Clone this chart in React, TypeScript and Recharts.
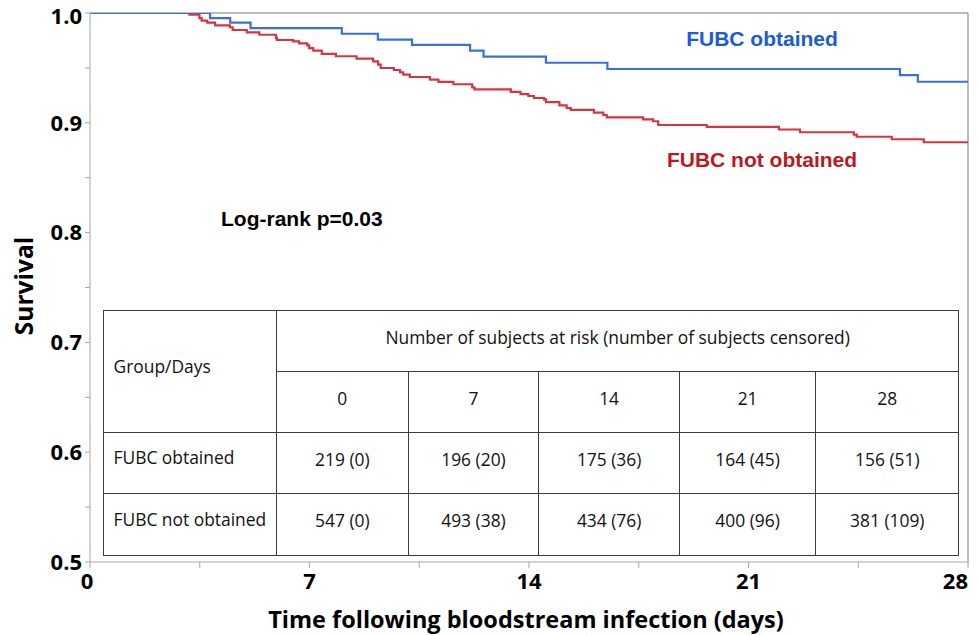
import React from 'react';
import { LineChart, Line, XAxis, YAxis, ReferenceLine } from 'recharts';

// Kaplan-Meier step points (days, survival)
const obtainedTimes = [0, 3.83, 4.47, 5.12, 8.03, 9.18, 10.27, 12.12, 12.55, 14.54, 16.5, 25.83, 26.4, 28];
const obtainedSurvival = [1, 0.9954, 0.9912, 0.9863, 0.9811, 0.9757, 0.9709, 0.9657, 0.9602, 0.9547, 0.949, 0.9435, 0.9374, 0.9374];

const notObtainedTimes = [
  0, 3.17, 3.49, 3.56, 3.74, 3.99, 4.46, 4.55, 5.0, 5.4, 5.93, 5.96, 6.48, 6.67, 6.93, 6.99, 7.12, 7.39, 7.84, 8.5,
  9.03, 9.19, 9.27, 9.69, 9.89, 9.99, 10.2, 10.84, 11.11, 11.59, 12.19, 12.26, 13.42, 13.73, 13.98, 14.16, 14.48,
  14.54, 14.97, 15.2, 15.33, 16.07, 16.37, 16.48, 17.64, 17.96, 18.12, 19.67, 21.97, 22.64, 24.36, 24.45, 25.57,
  26.59, 28,
];
const notObtainedSurvival = [
  1, 0.9985, 0.9954, 0.993, 0.9912, 0.9888, 0.987, 0.9845, 0.9824, 0.9802, 0.9772, 0.9754, 0.9742, 0.9724, 0.9706,
  0.9681, 0.9657, 0.9627, 0.9606, 0.9584, 0.956, 0.9529, 0.9499, 0.9481, 0.946, 0.9438, 0.9417, 0.9393, 0.9372,
  0.9351, 0.9323, 0.9305, 0.9281, 0.9262, 0.9244, 0.9226, 0.9214, 0.9189, 0.9159, 0.9135, 0.9117, 0.9092, 0.9071,
  0.905, 0.9032, 0.9014, 0.898, 0.8962, 0.8939, 0.8914, 0.8893, 0.8873, 0.885, 0.8823, 0.8823,
];

const xTicks = [0, 3.5, 7, 10.5, 14, 17.5, 21, 24.5, 28];
const xLabelTicks = [0, 7, 14, 21, 28];
const yTicks = [0.5, 0.55, 0.6, 0.65, 0.7, 0.75, 0.8, 0.85, 0.9, 0.95, 1.0];
const yLabelTicks = [0.5, 0.6, 0.7, 0.8, 0.9, 1.0];

const tableDays = ['0', '7', '14', '21', '28'];
const groupNames = ['FUBC obtained', 'FUBC not obtained'];
const obtainedAtRisk = ['219 (0)', '196 (20)', '175 (36)', '164 (45)', '156 (51)'];
const notObtainedAtRisk = ['547 (0)', '493 (38)', '434 (76)', '400 (96)', '381 (109)'];

const obtainedData = obtainedTimes.map((t, i) => ({ t, s: obtainedSurvival[i] }));
const notObtainedData = notObtainedTimes.map((t, i) => ({ t, s: notObtainedSurvival[i] }));

const AXIS = '#a6a6a6';
const BLUE_LINE = '#3a6fe4';
const RED_LINE = '#d8343f';
const TICK_FONT = '"Open Sans", sans-serif';
const tableFont = '"Open Sans", "Noto Sans", sans-serif';

const colWidths = [173.5, 131.7, 130.6, 140.7, 136.3, 143];
const rowHeights = [61, 61, 61, 62];

const border = '1.5px solid #3c3c3c';

const XTick = (props: any) => {
  const { x, y, payload } = props;
  const v = payload.value as number;
  if (!xLabelTicks.includes(v)) return null;
  const anchor = v === 28 ? 'end' : 'middle';
  const tx = v === 28 ? x : v === 0 ? x - 3 : x;
  return (
    <text x={tx} y={y} dy="0.71em" textAnchor={anchor} fontFamily={TICK_FONT} fontWeight={700} fontSize={22} fill="#000">
      {String(v)}
    </text>
  );
};

const YTick = (props: any) => {
  const { x, y, payload } = props;
  const v = payload.value as number;
  if (!yLabelTicks.some((m) => Math.abs(m - v) < 1e-6)) return null;
  const ty = Math.abs(v - 1) < 1e-6 ? y + 3 : y;
  return (
    <text x={x} y={ty} dy="0.355em" textAnchor="end" fontFamily={TICK_FONT} fontWeight={700} fontSize={22} fill="#000">
      {v.toFixed(1)}
    </text>
  );
};

export default function App() {
  const cell: React.CSSProperties = {
    border,
    textAlign: 'center',
    verticalAlign: 'middle',
    padding: '0 0 9px 0',
    fontFamily: tableFont,
    fontSize: 17.4,
    color: '#111',
    lineHeight: '20px',
  };
  const leftCell: React.CSSProperties = { ...cell, textAlign: 'left', paddingLeft: 10, paddingBottom: 12 };
  const rows = [obtainedAtRisk, notObtainedAtRisk];
  return (
    <div style={{ position: 'absolute', left: 0, top: 0, width: 978, height: 635, background: '#fff' }}>
      <LineChart width={978} height={635} margin={{ top: 13, right: 10, bottom: 0, left: 0 }}>
        <XAxis
          dataKey="t"
          type="number"
          domain={[0, 28]}
          ticks={xTicks}
          stroke={AXIS}
          tick={<XTick />}
          tickSize={6}
          tickMargin={5}
          height={73}
          allowDataOverflow
        />
        <YAxis
          dataKey="s"
          type="number"
          domain={[0.5, 1]}
          ticks={yTicks}
          stroke={AXIS}
          tick={<YTick />}
          tickSize={5}
          tickMargin={3}
          width={90}
          allowDataOverflow
        />
        <ReferenceLine y={1} stroke={AXIS} strokeWidth={1.5} />
        <ReferenceLine x={28} stroke={AXIS} strokeWidth={1.5} />
        <Line
          data={notObtainedData}
          dataKey="s"
          type="stepAfter"
          stroke={RED_LINE}
          strokeWidth={2.2}
          dot={false}
          activeDot={false}
          isAnimationActive={false}
        />
        <Line
          data={obtainedData}
          dataKey="s"
          type="stepAfter"
          stroke={BLUE_LINE}
          strokeWidth={2.2}
          dot={false}
          activeDot={false}
          isAnimationActive={false}
        />
      </LineChart>

      <svg width={978} height={635} style={{ position: 'absolute', left: 0, top: 0, pointerEvents: 'none' }}>
        <text x={762} y={46} textAnchor="middle" fontFamily='"Liberation Sans", Arial, sans-serif' fontWeight={700} fontSize={21} fill="#1a5bd9">
          FUBC obtained
        </text>
        <text x={762} y={167} textAnchor="middle" fontFamily='"Liberation Sans", Arial, sans-serif' fontWeight={700} fontSize={21} fill="#b71a1f">
          FUBC not obtained
        </text>
        <text x={221} y={226} textAnchor="start" fontFamily='"Liberation Sans", Arial, sans-serif' fontWeight={700} fontSize={21} fill="#000">
          Log-rank p=0.03
        </text>
        <text
          x={0}
          y={0}
          transform="translate(33,286) rotate(-90)"
          textAnchor="middle"
          fontFamily='"Open Sans", sans-serif'
          fontWeight={700}
          fontSize={24.5}
          fill="#000"
        >
          Survival
        </text>
        <text x={526} y={628} textAnchor="middle" fontFamily='"Open Sans", sans-serif' fontWeight={700} fontSize={23.5} fill="#000">
          Time following bloodstream infection (days)
        </text>
      </svg>

      <table
        style={{
          position: 'absolute',
          left: 102.5,
          top: 310,
          width: 856,
          height: 245,
          borderCollapse: 'collapse',
          tableLayout: 'fixed',
          background: '#fff',
        }}
      >
        <colgroup>
          {colWidths.map((w, i) => (
            <col key={i} style={{ width: w }} />
          ))}
        </colgroup>
        <tbody>
          <tr style={{ height: rowHeights[0] }}>
            <td rowSpan={2} style={leftCell}>
              Group/Days
            </td>
            <td colSpan={5} style={cell}>
              Number of subjects at risk (number of subjects censored)
            </td>
          </tr>
          <tr style={{ height: rowHeights[1] }}>
            {tableDays.map((d) => (
              <td key={d} style={cell}>
                {d}
              </td>
            ))}
          </tr>
          {rows.map((r, ri) => (
            <tr key={ri} style={{ height: rowHeights[ri + 2] }}>
              <td style={leftCell}>{groupNames[ri]}</td>
              {r.map((v, ci) => (
                <td key={ci} style={cell}>
                  {v}
                </td>
              ))}
            </tr>
          ))}
        </tbody>
      </table>
    </div>
  );
}
